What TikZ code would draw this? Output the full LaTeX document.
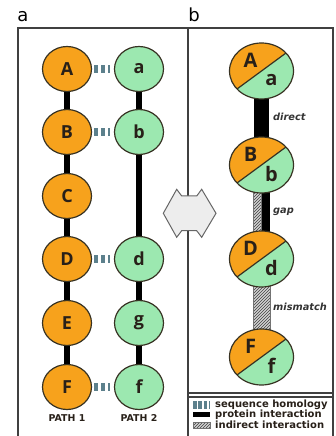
\documentclass[tikz,border=0pt]{standalone}
\usepackage{fontspec}
\setmainfont{Open Sans}
\newfontfamily\keyfont{DejaVu Sans}
\definecolor{protorange}{RGB}{247,162,28}
\definecolor{protgreen}{RGB}{156,232,176}
\definecolor{homolblue}{RGB}{92,128,140}
\definecolor{rimdark}{RGB}{55,50,35}
\definecolor{inkdark}{RGB}{40,32,25}
\usetikzlibrary{shapes.geometric,patterns,backgrounds}
\tikzset{
  protein/.style={ellipse, draw=rimdark, line width=1.2pt, inner sep=0pt, text=inkdark,
    font=\bfseries\fontsize{18}{18}\selectfont},
  merged/.style={protein, minimum width=64pt, minimum height=56pt, fill=protorange,
    path picture={
      \fill[protgreen] ([shift={(49pt,36pt)}]path picture bounding box.center)
        -- ([shift={(60pt,-60pt)}]path picture bounding box.center)
        -- ([shift={(-49pt,-36pt)}]path picture bounding box.center) -- cycle;
      \draw[rimdark, line width=1.2pt] ([shift={(-49pt,-36pt)}]path picture bounding box.center)
        -- ([shift={(49pt,36pt)}]path picture bounding box.center);
    }},
  frame/.style={black!75, line width=1.3pt},
  interact/.style={black, line width=6pt},
  homol/.style={homolblue, line width=8pt, dash pattern=on 3.6pt off 3.2pt},
  indirect/.style={draw=black!55, line width=0.5pt, preaction={fill=black!18},
    pattern=north east lines, pattern color=black!75},
  tag/.style={inner sep=0pt, text=black!80, font=\keyfont\bfseries\itshape\fontsize{9.8}{10}\selectfont},
  keytext/.style={anchor=west, inner sep=0pt, text=inkdark, font=\keyfont\bfseries\fontsize{10}{10}\selectfont},
}

\begin{document}
\begin{tikzpicture}[x=1pt,y=1pt]
  \useasboundingbox (0,0) rectangle (336,436);
  \clip (0,0) rectangle (336,436);

  % frames of the two panels and the key
  \draw[frame] (18,-5) |- (333,408) -- (333,-5);
  \draw[frame] (188,408) -- (188,-5);
  \draw[frame] (188,43) -- (333,43) (188,39) -- (333,39);

  \node[font=\keyfont\fontsize{18}{18}\selectfont, anchor=base] (pana) at (23,414) {a};
  \node[font=\keyfont\fontsize{18}{18}\selectfont, anchor=base] (panb) at (194,414) {b};

  % panel a: the two pathways
  \begin{scope}[every node/.style={protein, minimum width=49pt, minimum height=45pt}]
    \node[fill=protorange] (A) at (67,367) {A};
    \node[fill=protorange] (B) at (67,304) {B};
    \node[fill=protorange] (C) at (67,240) {C};
    \node[fill=protorange] (D) at (67,177) {D};
    \node[fill=protorange] (E) at (67,113) {E};
    \node[fill=protorange] (F) at (67,49) {F};
    \node[fill=protgreen] (a) at (139,367) {a};
    \node[fill=protgreen] (b) at (139,304) {b};
    \node[fill=protgreen] (d) at (139,177) {d};
    \node[fill=protgreen] (g) at (139,113) {g};
    \node[fill=protgreen] (f) at (139,49) {f};
  \end{scope}

  \begin{scope}[on background layer]
    \draw[interact] (A.center) -- (B.center) -- (C.center) -- (D.center) -- (E.center) -- (F.center);
    \draw[interact] (a.center) -- (b.center) -- (d.center) -- (g.center) -- (f.center);
  \end{scope}

  \foreach \p/\q in {A/a,B/b,D/d,F/f}
    \draw[homol] ([xshift=2.3pt]\p.east) -- ([xshift=-3.5pt]\q.west);

  \node[inner sep=0pt, text=inkdark, font=\keyfont\bfseries\fontsize{9.4}{9}\selectfont] (path1) at (67,18) {PATH 1};
  \node[inner sep=0pt, text=inkdark, font=\keyfont\bfseries\fontsize{9.4}{9}\selectfont] (path2) at (139,18) {PATH 2};

  % double arrow between the panels
  \draw[black!60, fill=black!7, line width=1pt, line join=miter]
    (163.3,222.7) -- (176.7,246.7) -- (181.7,240) -- (196.7,240) -- (201.7,246.7)
    -- (216,222.7) -- (201.7,198.7) -- (196.7,205.3) -- (181.7,205.3) -- (176.7,198.7) -- cycle;

  % panel b: merged pathway
  \foreach \up/\lo/\y in {A/a/365, B/b/271, D/d/177, F/f/79} {
    \node[merged] (\up\lo) at (261.5,\y) {};
    \node[protein, draw=none, font=\bfseries\fontsize{20}{20}\selectfont] at ([shift={(-11pt,11pt)}]\up\lo.center) {\up};
    \node[protein, draw=none, font=\bfseries\fontsize{20}{20}\selectfont] at ([shift={(10pt,-9pt)}]\up\lo.center) {\lo};
  }

  \begin{scope}[on background layer]
    \fill[black] ([xshift=-7.5pt]Aa.center) rectangle ([xshift=7.5pt]Bb.center);
    \draw[indirect] ([xshift=-8.5pt]Bb.center) rectangle (Dd.center);
    \fill[black] (Bb.center) rectangle ([xshift=8.5pt]Dd.center);
    \draw[indirect] ([xshift=-8pt]Dd.center) rectangle ([xshift=8.5pt]Ff.center);
  \end{scope}

  \node[tag, anchor=west] (direct) at (273,319) {direct};
  \node[tag, anchor=west] (gap) at (273,224) {gap};
  \node[tag, anchor=west] (mismatch) at (273,129) {mismatch};

  % key
  \draw[homolblue, line width=8pt, dash pattern=on 3.6pt off 1.8pt] (193,31) -- (210,31);
  \fill[black] (193,18.5) rectangle (210,24);
  \draw[indirect] (193,8) rectangle (210,13.5);
  \node[keytext] (kseq) at (215,31) {sequence homology};
  \node[keytext] (kprot) at (215,21) {protein interaction};
  \node[keytext] (kind) at (215,11) {indirect interaction};
\end{tikzpicture}
\end{document}
